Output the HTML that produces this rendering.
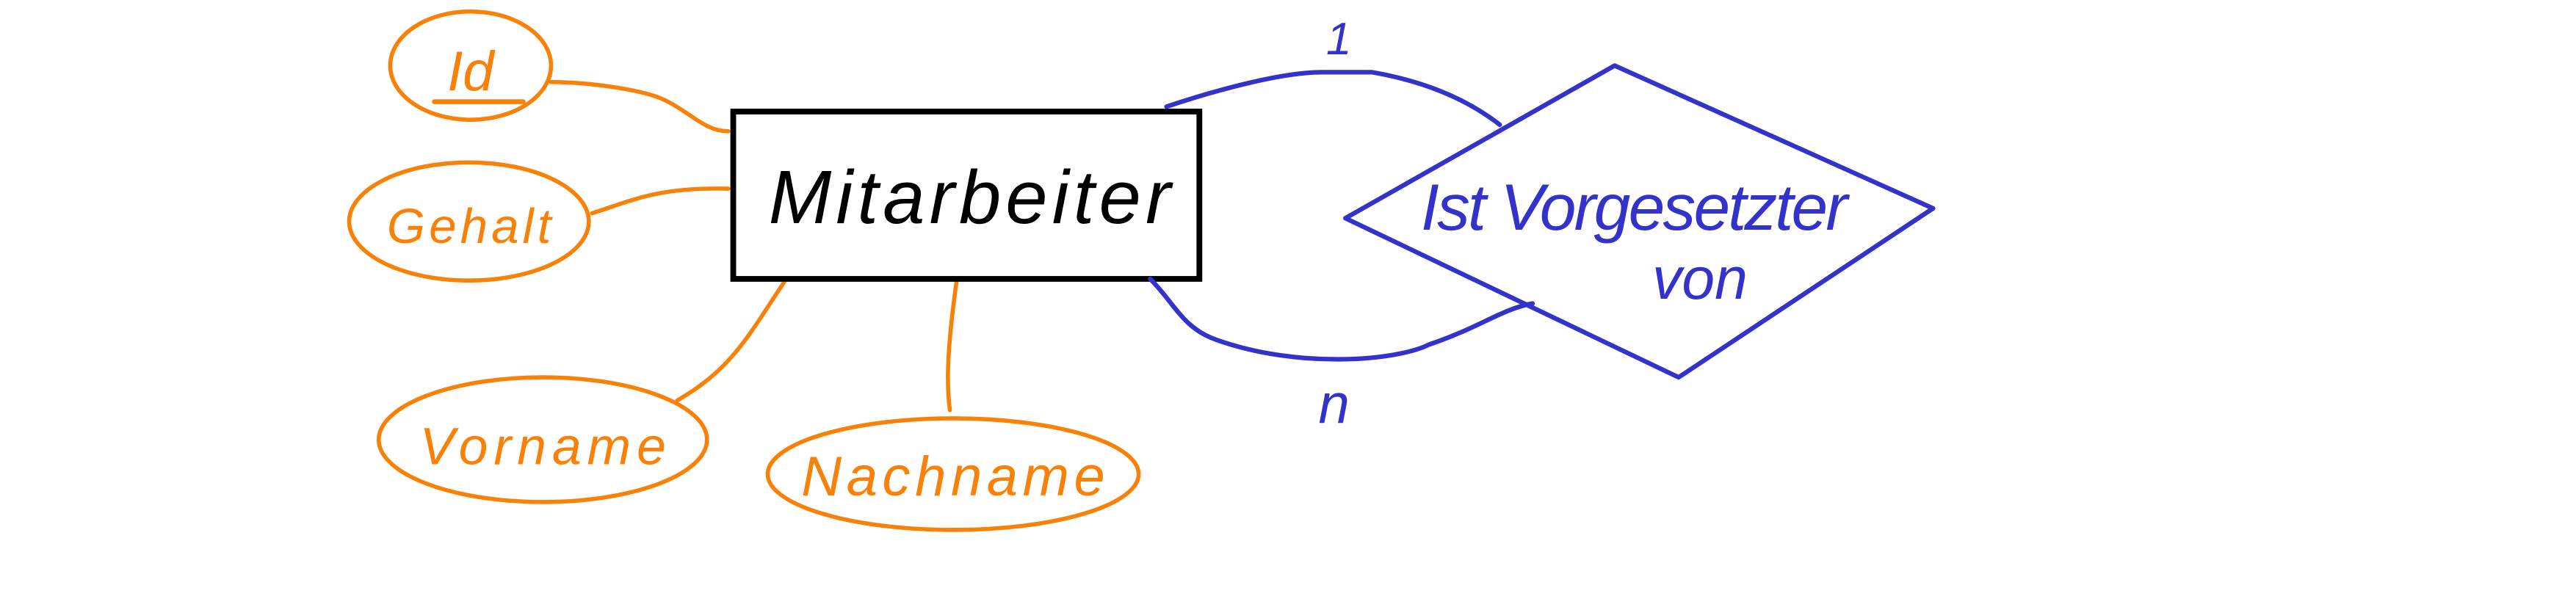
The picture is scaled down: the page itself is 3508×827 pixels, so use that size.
<!DOCTYPE html>
<html><head><meta charset="utf-8"><style>
html,body{margin:0;padding:0;background:#fff;}
svg{display:block;}
</style></head><body>
<svg width="3508" height="827" viewBox="0 0 1568 370" xmlns="http://www.w3.org/2000/svg">
<rect width="1568" height="370" fill="#fff"/>
<g fill="none" stroke="#f98107" stroke-width="2.5" stroke-linecap="round">
<ellipse cx="286" cy="40" rx="49" ry="33"/>
<path d="M335 50 C360 50 390 55 402 60 C420 68 428 80 443 80"/>
<ellipse cx="285" cy="135" rx="73" ry="36"/>
<path d="M360 130 C385 122 400 114 443 115"/>
<ellipse cx="330" cy="268" rx="100" ry="38"/>
<path d="M412 244 C445 225 455 205 477 172"/>
<ellipse cx="580" cy="289" rx="113" ry="34"/>
<path d="M578 250 C576 235 576 215 582 172"/>
<path d="M264 62 L318 62" stroke-width="3"/>
</g>
<g font-family="Liberation Sans, sans-serif" fill="#f98107" font-style="italic">
<text x="286" y="55" font-size="34" text-anchor="middle">Id</text>
<text x="285" y="148" font-size="30" text-anchor="middle" textLength="100">Gehalt</text>
<text x="330" y="283" font-size="32" text-anchor="middle" textLength="150">Vorname</text>
<text x="580" y="302" font-size="34" text-anchor="middle" textLength="185">Nachname</text>
</g>
<rect x="446" y="68" width="284" height="102" fill="#fff" stroke="#000" stroke-width="3.5"/>
<text x="590" y="136" font-family="Liberation Sans, sans-serif" font-style="italic" font-size="46" text-anchor="middle" textLength="245">Mitarbeiter</text>
<g fill="none" stroke="#3333cc" stroke-width="2.8" stroke-linecap="round" stroke-linejoin="round">
<path d="M983 40 L1177 127 L1022 230 L819 133 L983 40"/>
<path d="M710 65 C740 55 780 44 805 44 L835 44 C870 50 895 62 913 76"/>
<path d="M700 170 C715 185 720 200 740 207 C790 225 850 220 870 210 C900 200 915 188 933 185"/>
</g>
<g font-family="Liberation Sans, sans-serif" fill="#3333cc" font-style="italic">
<text x="995" y="140" font-size="40" text-anchor="middle" textLength="260">Ist Vorgesetzter</text>
<text x="1035" y="182" font-size="36" text-anchor="middle">von</text>
<text x="815" y="33" font-size="28" text-anchor="middle">1</text>
<text x="812" y="258" font-size="34" text-anchor="middle">n</text>
</g>
</svg>
</body></html>
